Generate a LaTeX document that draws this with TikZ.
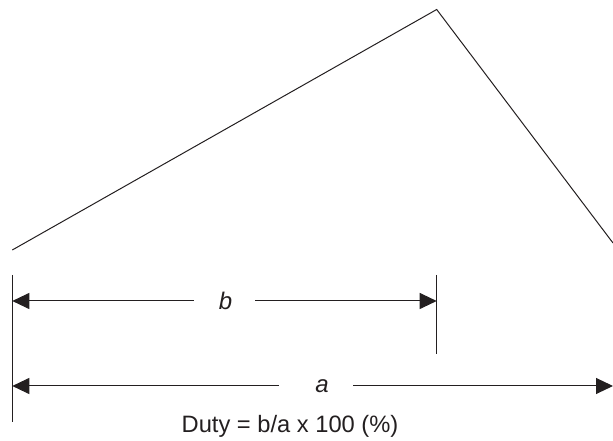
\documentclass[tikz,border=0pt]{standalone}
\usepackage{fontspec}
\setmainfont{Liberation Sans}
\usetikzlibrary{arrows.meta}
\definecolor{ink}{HTML}{231F20}
\tikzset{
  thinline/.style={draw=ink, line width=1pt},
  dimarrow/.style={draw=ink, line width=1pt, -{Triangle[length=17pt,width=16pt]}},
  dimlabel/.style={font=\fontsize{24}{27}\selectfont\itshape, text=ink, inner sep=0pt, minimum height=20pt},
}
\begin{document}
\begin{tikzpicture}[x=1pt,y=1pt]
\useasboundingbox (0,0) rectangle (613,441);
% waveform
\coordinate (p0) at (12.3,191);
\coordinate (p1) at (436.7,431.5);
\coordinate (p2) at (613,198);
\draw[thinline] (p0) -- (p1) -- (p2);
% extension lines
\coordinate (lt) at (12.3,166);
\coordinate (lbot) at (12.3,19);
\coordinate (rt) at (436.7,166);
\coordinate (rbot) at (436.7,87);
\draw[thinline] (lt) -- (lbot);
\draw[thinline] (rt) -- (rbot);
% arrow b
\coordinate (bL) at (12.3,140);
\coordinate (bR) at (436.7,140);
\node[dimlabel, minimum width=61pt] (b) at (224.5,140) {\hspace{2pt}b};
\draw[dimarrow] (b.west) -- (bL);
\draw[dimarrow] (b.east) -- (bR);
% arrow a
\coordinate (aL) at (12.3,55);
\coordinate (aR) at (613,55);
\node[dimlabel, minimum width=74pt] (a) at (316,55) {\hspace{12pt}a};
\draw[dimarrow] (a.west) -- (aL);
\draw[dimarrow] (a.east) -- (aR);
% formula
\node[anchor=base, text=ink, inner sep=0pt, font=\fontsize{23.7}{26}\selectfont] (duty) at (290,8) {Duty = b/a x 100 (\%)};
\end{tikzpicture}
\end{document}
